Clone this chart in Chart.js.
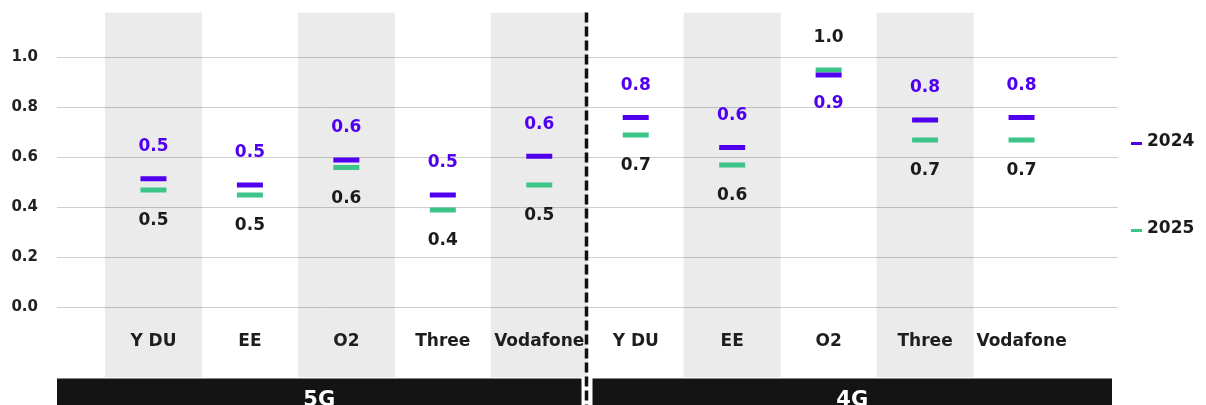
<!DOCTYPE html>
<html>
<head>
<meta charset="utf-8">
<script src="https://cdn.jsdelivr.net/npm/chart.js@4.4.1/dist/chart.umd.min.js"></script>
<style>
  body { margin: 0; background: #fff; }
  #wrap { width: 1206px; height: 405px; position: relative; }
</style>
</head>
<body>
<div id="wrap"><canvas id="chart"></canvas></div>
<script>
// data
var operators = ['Y DU', 'EE', 'O2', 'Three', 'Vodafone'];
var networks = ['5G', '4G'];
var yTicks = [0, 0.2, 0.4, 0.6, 0.8, 1.0];
var shaded = [true, false, true, false, true, false, true, false, true, false];

var values2024 = [0.515, 0.49, 0.59, 0.45, 0.605, 0.76, 0.64, 0.93, 0.75, 0.76];
var values2025 = [0.47, 0.45, 0.56, 0.39, 0.49, 0.69, 0.57, 0.95, 0.67, 0.67];
var labels2024 = ['0.5', '0.5', '0.6', '0.5', '0.6', '0.8', '0.6', '0.9', '0.8', '0.8'];
var labels2025 = ['0.5', '0.5', '0.6', '0.4', '0.5', '0.7', '0.6', '1.0', '0.7', '0.7'];

var purple = '#5000ee';
var green = '#3cc489';
var ink = '#1b1b1b';
var font = '"DejaVu Sans", sans-serif';

// one slot per operator per network, plus an empty slot at both ends
var columns = [''];
networks.forEach(function (n) { operators.forEach(function (o) { columns.push(o); }); });
columns.push('');

function padded(arr) { return [null].concat(arr, [null]); }

var bands = [null];
shaded.forEach(function (s) { bands.push(s ? [-0.28, 1.18] : null); });
bands.push(null);

var overlay = {
  id: 'overlay',
  afterDatasetsDraw: function (chart) {
    var ctx = chart.ctx, x = chart.scales.x, y = chart.scales.y, area = chart.chartArea;
    ctx.save();
    ctx.textAlign = 'center';
    ctx.textBaseline = 'middle';
    ctx.font = 'bold 17px ' + font;
    for (var i = 0; i < values2024.length; i++) {
      var px = x.getPixelForValue(i + 1);
      var p24 = y.getPixelForValue(values2024[i]);
      var p25 = y.getPixelForValue(values2025[i]);
      var top24 = values2024[i] >= values2025[i];
      ctx.fillStyle = purple;
      ctx.fillText(labels2024[i], px, top24 ? p24 - 32 : p24 + 29);
      ctx.fillStyle = ink;
      ctx.fillText(labels2025[i], px, top24 ? p25 + 31 : p25 - 32);
      // category name
      ctx.fillStyle = '#1e1e1e';
      ctx.fillText(columns[i + 1], px, area.bottom - 36);
    }
    ctx.restore();
  },
  afterDraw: function (chart) {
    var ctx = chart.ctx, x = chart.scales.x, area = chart.chartArea;
    var mid = (x.getPixelForValue(5) + x.getPixelForValue(6)) / 2;
    ctx.save();
    // network bars
    ctx.fillStyle = '#141414';
    ctx.fillRect(area.left, area.bottom + 1, mid - 6 - area.left, 40);
    ctx.fillRect(mid + 5, area.bottom + 1, area.right - 6 - mid - 5, 40);
    ctx.fillStyle = '#fff';
    ctx.font = 'bold 21px ' + font;
    ctx.textAlign = 'center';
    ctx.textBaseline = 'alphabetic';
    ctx.fillText(networks[0], (area.left + mid - 6) / 2, area.bottom + 28);
    ctx.fillText(networks[1], (mid + 5 + area.right - 6) / 2, area.bottom + 28);
    // divider
    ctx.strokeStyle = '#111';
    ctx.lineWidth = 3.5;
    ctx.setLineDash([10, 4]);
    ctx.beginPath();
    ctx.moveTo(mid - 1, area.top);
    ctx.lineTo(mid - 1, chart.height);
    ctx.stroke();
    ctx.setLineDash([]);
    // legend
    var items = [['2024', purple, 142], ['2025', green, 229]];
    ctx.font = 'bold 17px ' + font;
    ctx.textAlign = 'left';
    ctx.textBaseline = 'middle';
    items.forEach(function (it) {
      ctx.fillStyle = it[1];
      ctx.fillRect(area.right + 13, it[2], 11, 3);
      ctx.fillStyle = ink;
      ctx.fillText(it[0], area.right + 29, it[2]);
    });
    ctx.restore();
  }
};

new Chart(document.getElementById('chart'), {
  data: {
    labels: columns,
    datasets: [
      {
        type: 'line',
        label: '2024',
        data: padded(values2024),
        showLine: false,
        pointStyle: 'line',
        pointRadius: 13,
        pointBorderWidth: 5,
        borderColor: purple,
        backgroundColor: purple,
        order: 1
      },
      {
        type: 'line',
        label: '2025',
        data: padded(values2025),
        showLine: false,
        pointStyle: 'line',
        pointRadius: 13,
        pointBorderWidth: 5,
        borderColor: green,
        backgroundColor: green,
        order: 2
      },
      {
        type: 'bar',
        label: 'band',
        data: bands,
        backgroundColor: 'rgba(0,0,0,0.08)',
        barPercentage: 1,
        categoryPercentage: 1,
        order: 3
      }
    ]
  },
  options: {
    responsive: true,
    maintainAspectRatio: false,
    animation: false,
    events: [],
    layout: { autoPadding: false, padding: { left: 12, right: 88, top: 12.5, bottom: 27.5 } },
    plugins: { legend: { display: false }, tooltip: { enabled: false } },
    scales: {
      x: {
        type: 'category',
        offset: false,
        display: false
      },
      y: {
        min: -0.28,
        max: 1.18,
        afterBuildTicks: function (scale) {
          scale.ticks = yTicks.map(function (v) { return { value: v }; });
        },
        afterFit: function (scale) {
          scale.width = 45;
          scale.paddingTop = 0;
          scale.paddingBottom = 0;
        },
        border: { display: false },
        grid: { color: '#cfcfcf', lineWidth: 1, drawTicks: false },
        ticks: {
          padding: 19,
          color: '#222',
          font: { family: font, weight: 'bold', size: 15 },
          callback: function (v) { return Number(v).toFixed(1); }
        }
      }
    }
  },
  plugins: [overlay]
});
</script>
</body>
</html>
